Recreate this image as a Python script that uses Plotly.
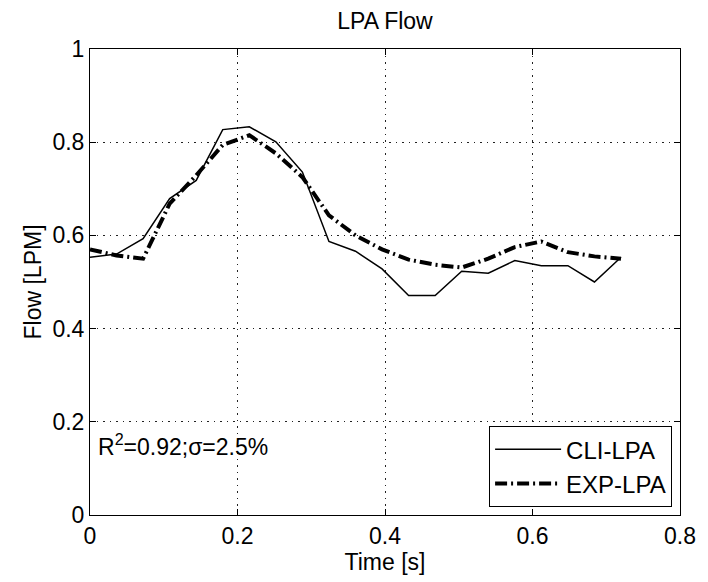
import plotly.graph_objects as go

time_s = [0.0, 0.036, 0.072, 0.108, 0.144, 0.18, 0.216, 0.252, 0.288, 0.324, 0.36,
          0.396, 0.432, 0.468, 0.504, 0.54, 0.576, 0.612, 0.648, 0.684, 0.72]
cli_lpa = [0.553, 0.560, 0.593, 0.679, 0.718, 0.827, 0.833, 0.801, 0.736, 0.587, 0.566,
           0.528, 0.471, 0.471, 0.523, 0.519, 0.546, 0.535, 0.535, 0.500, 0.553]
exp_lpa = [0.570, 0.557, 0.550, 0.668, 0.729, 0.794, 0.815, 0.776, 0.725, 0.643, 0.600,
           0.570, 0.548, 0.537, 0.531, 0.550, 0.575, 0.587, 0.564, 0.555, 0.550]

x_ticks = [0, 0.2, 0.4, 0.6, 0.8]
y_ticks = [0, 0.2, 0.4, 0.6, 0.8, 1]

FONT = "Liberation Sans, Arial, sans-serif"
FS = 23

fig = go.Figure()
fig.add_trace(go.Scatter(x=time_s, y=cli_lpa, mode="lines", name="CLI-LPA",
                         line=dict(color="black", width=1.5)))
fig.add_trace(go.Scatter(x=time_s, y=exp_lpa, mode="lines", name="EXP-LPA",
                         line=dict(color="black", width=4, dash="12px,4px,2px,4px")))

axis_common = dict(showline=True, mirror="ticks", linecolor="black", linewidth=1,
                   ticks="inside", ticklen=6, tickcolor="black",
                   showgrid=True, gridcolor="#222222", gridwidth=1, griddash="1.5px,5px",
                   zeroline=False, tickfont=dict(size=FS, color="black", family=FONT))

fig.update_xaxes(range=[0, 0.8], tickvals=x_ticks, ticktext=[f"{v:g}" for v in x_ticks],
                 title=dict(text="Time [s]", font=dict(size=FS, color="black", family=FONT), standoff=2),
                 **axis_common)
fig.update_yaxes(range=[0, 1], tickvals=y_ticks, ticktext=[f"{v:g}" for v in y_ticks],
                 title=dict(text="Flow [LPM]", font=dict(size=FS, color="black", family=FONT), standoff=4),
                 **axis_common)

fig.add_annotation(x=0.0, y=0.15, xref="x", yref="y", xanchor="left", yanchor="middle",
                   xshift=6, showarrow=False,
                   text="R<sup>2</sup>=0.92;σ=2.5%",
                   font=dict(size=FS, color="black", family=FONT))

fig.update_layout(
    width=708, height=582,
    margin=dict(l=90, r=22, t=49, b=67),
    paper_bgcolor="white", plot_bgcolor="white",
    title=dict(text="LPA Flow", x=0.5, xanchor="center", xref="paper", y=1 - 21 / 582, yanchor="middle",
               font=dict(size=FS, color="black", family=FONT)),
    showlegend=True,
    legend=dict(x=0.9866, y=0.017, xanchor="right", yanchor="bottom",
                bgcolor="white", bordercolor="black", borderwidth=1, itemwidth=66,
                font=dict(size=FS + 1, color="black", family=FONT), tracegroupgap=0),
)

fig.write_html("out.html")
